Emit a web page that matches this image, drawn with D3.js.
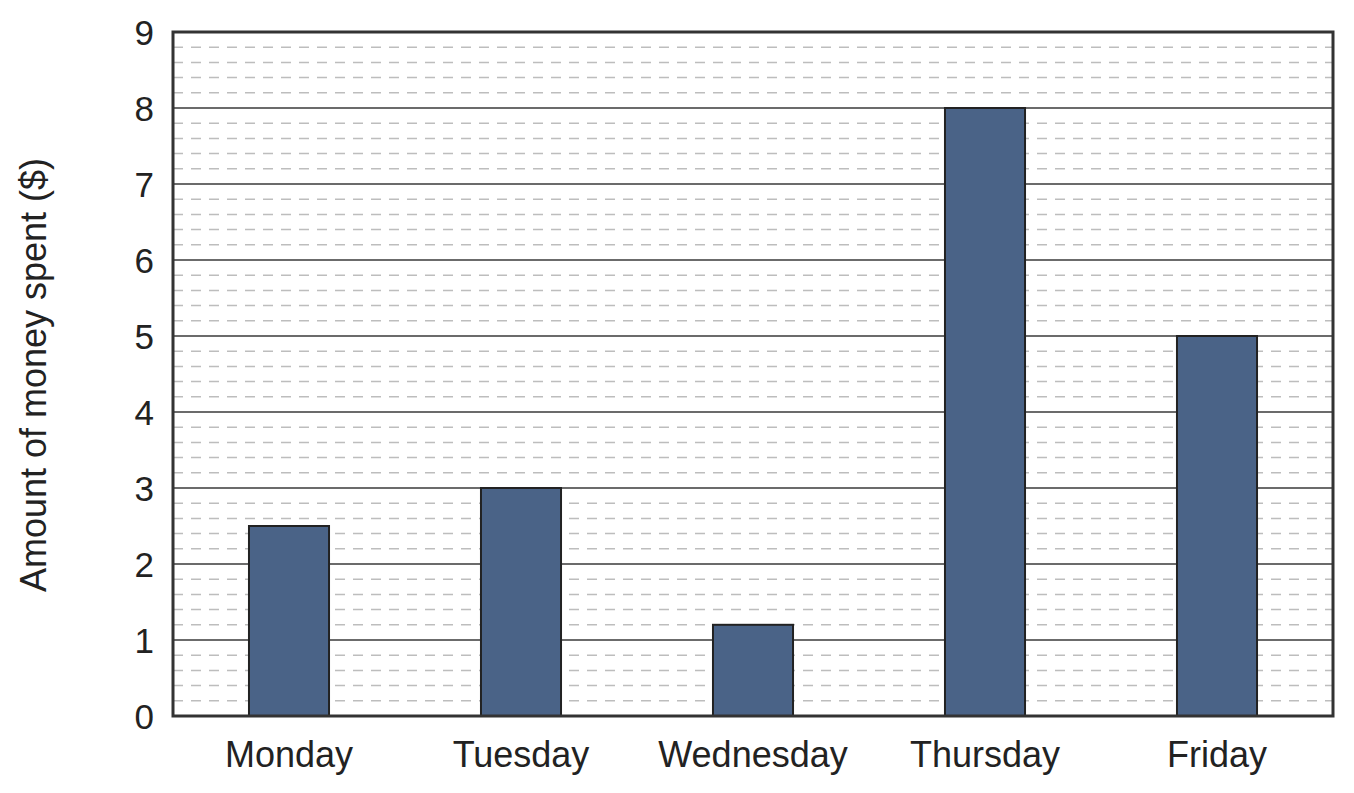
<!DOCTYPE html>
<html>
<head>
<meta charset="utf-8">
<script src="https://cdn.jsdelivr.net/npm/d3@7"></script>
<style>
  body { margin: 0; background: #fff; }
  text { font-family: "Liberation Sans", Arial, sans-serif; fill: #222; }
</style>
</head>
<body>
<div id="root"></div>
<script>
let days = ["Monday", "Tuesday", "Wednesday", "Thursday", "Friday"];
let spent = [2.5, 3, 1.2, 8, 5];
let yTicks = [0, 1, 2, 3, 4, 5, 6, 7, 8, 9];
let yTitle = "Amount of money spent ($)";

let width = 1354, height = 793;
let margin = { top: 32, right: 21, bottom: 77, left: 173 };
let innerW = width - margin.left - margin.right;
let innerH = height - margin.top - margin.bottom;

let svg = d3.select('#root').append('svg')
    .attr('width', width)
    .attr('height', height);

let g = svg.append('g')
    .attr('transform', 'translate(' + margin.left + ',' + margin.top + ')');

let x = d3.scaleBand()
    .domain(days)
    .range([0, innerW])
    .paddingInner(0.655)
    .paddingOuter(0.3275);

let y = d3.scaleLinear()
    .domain([0, 9])
    .range([innerH, 0]);

// minor dashed grid, 5 steps per unit
let minor = d3.range(0, 45).filter(function (d) { return d % 5 !== 0; }).map(function (d) { return d / 5; });
g.selectAll('.minor')
    .data(minor)
    .enter().append('line')
    .attr('class', 'minor')
    .attr('x1', 0).attr('x2', innerW)
    .attr('y1', function (d) { return y(d); })
    .attr('y2', function (d) { return y(d); })
    .style('stroke', '#bdbdbd')
    .style('stroke-width', 1.5)
    .style('stroke-dasharray', '10,8');

// major grid
g.selectAll('.major')
    .data(yTicks.slice(1, -1))
    .enter().append('line')
    .attr('class', 'major')
    .attr('x1', 0).attr('x2', innerW)
    .attr('y1', function (d) { return y(d); })
    .attr('y2', function (d) { return y(d); })
    .style('stroke', '#6b6b6b')
    .style('stroke-width', 2);

// bars
g.selectAll('.bar')
    .data(spent)
    .enter().append('rect')
    .attr('class', 'bar')
    .attr('x', function (d, i) { return x(days[i]); })
    .attr('y', function (d) { return y(d); })
    .attr('width', x.bandwidth())
    .attr('height', function (d) { return innerH - y(d); })
    .style('fill', '#4a6387')
    .style('stroke', '#222')
    .style('stroke-width', 2);

// frame
g.append('rect')
    .attr('x', 0).attr('y', 0)
    .attr('width', innerW).attr('height', innerH)
    .style('fill', 'none')
    .style('stroke', '#333')
    .style('stroke-width', 3);

// y tick labels
g.selectAll('.ytick')
    .data(yTicks)
    .enter().append('text')
    .attr('class', 'ytick')
    .attr('x', -19)
    .attr('y', function (d) { return y(d); })
    .attr('dy', '0.36em')
    .attr('text-anchor', 'end')
    .style('font-size', '35px')
    .text(function (d) { return d; });

// x labels
g.selectAll('.xlab')
    .data(days)
    .enter().append('text')
    .attr('class', 'xlab')
    .attr('x', function (d) { return x(d) + x.bandwidth() / 2; })
    .attr('y', innerH + 51)
    .attr('text-anchor', 'middle')
    .style('font-size', '36px')
    .text(function (d) { return d; });

// y title
svg.append('text')
    .attr('transform', 'translate(46,375) rotate(-90)')
    .attr('text-anchor', 'middle')
    .style('font-size', '36px')
    .text(yTitle);
</script>
</body>
</html>
